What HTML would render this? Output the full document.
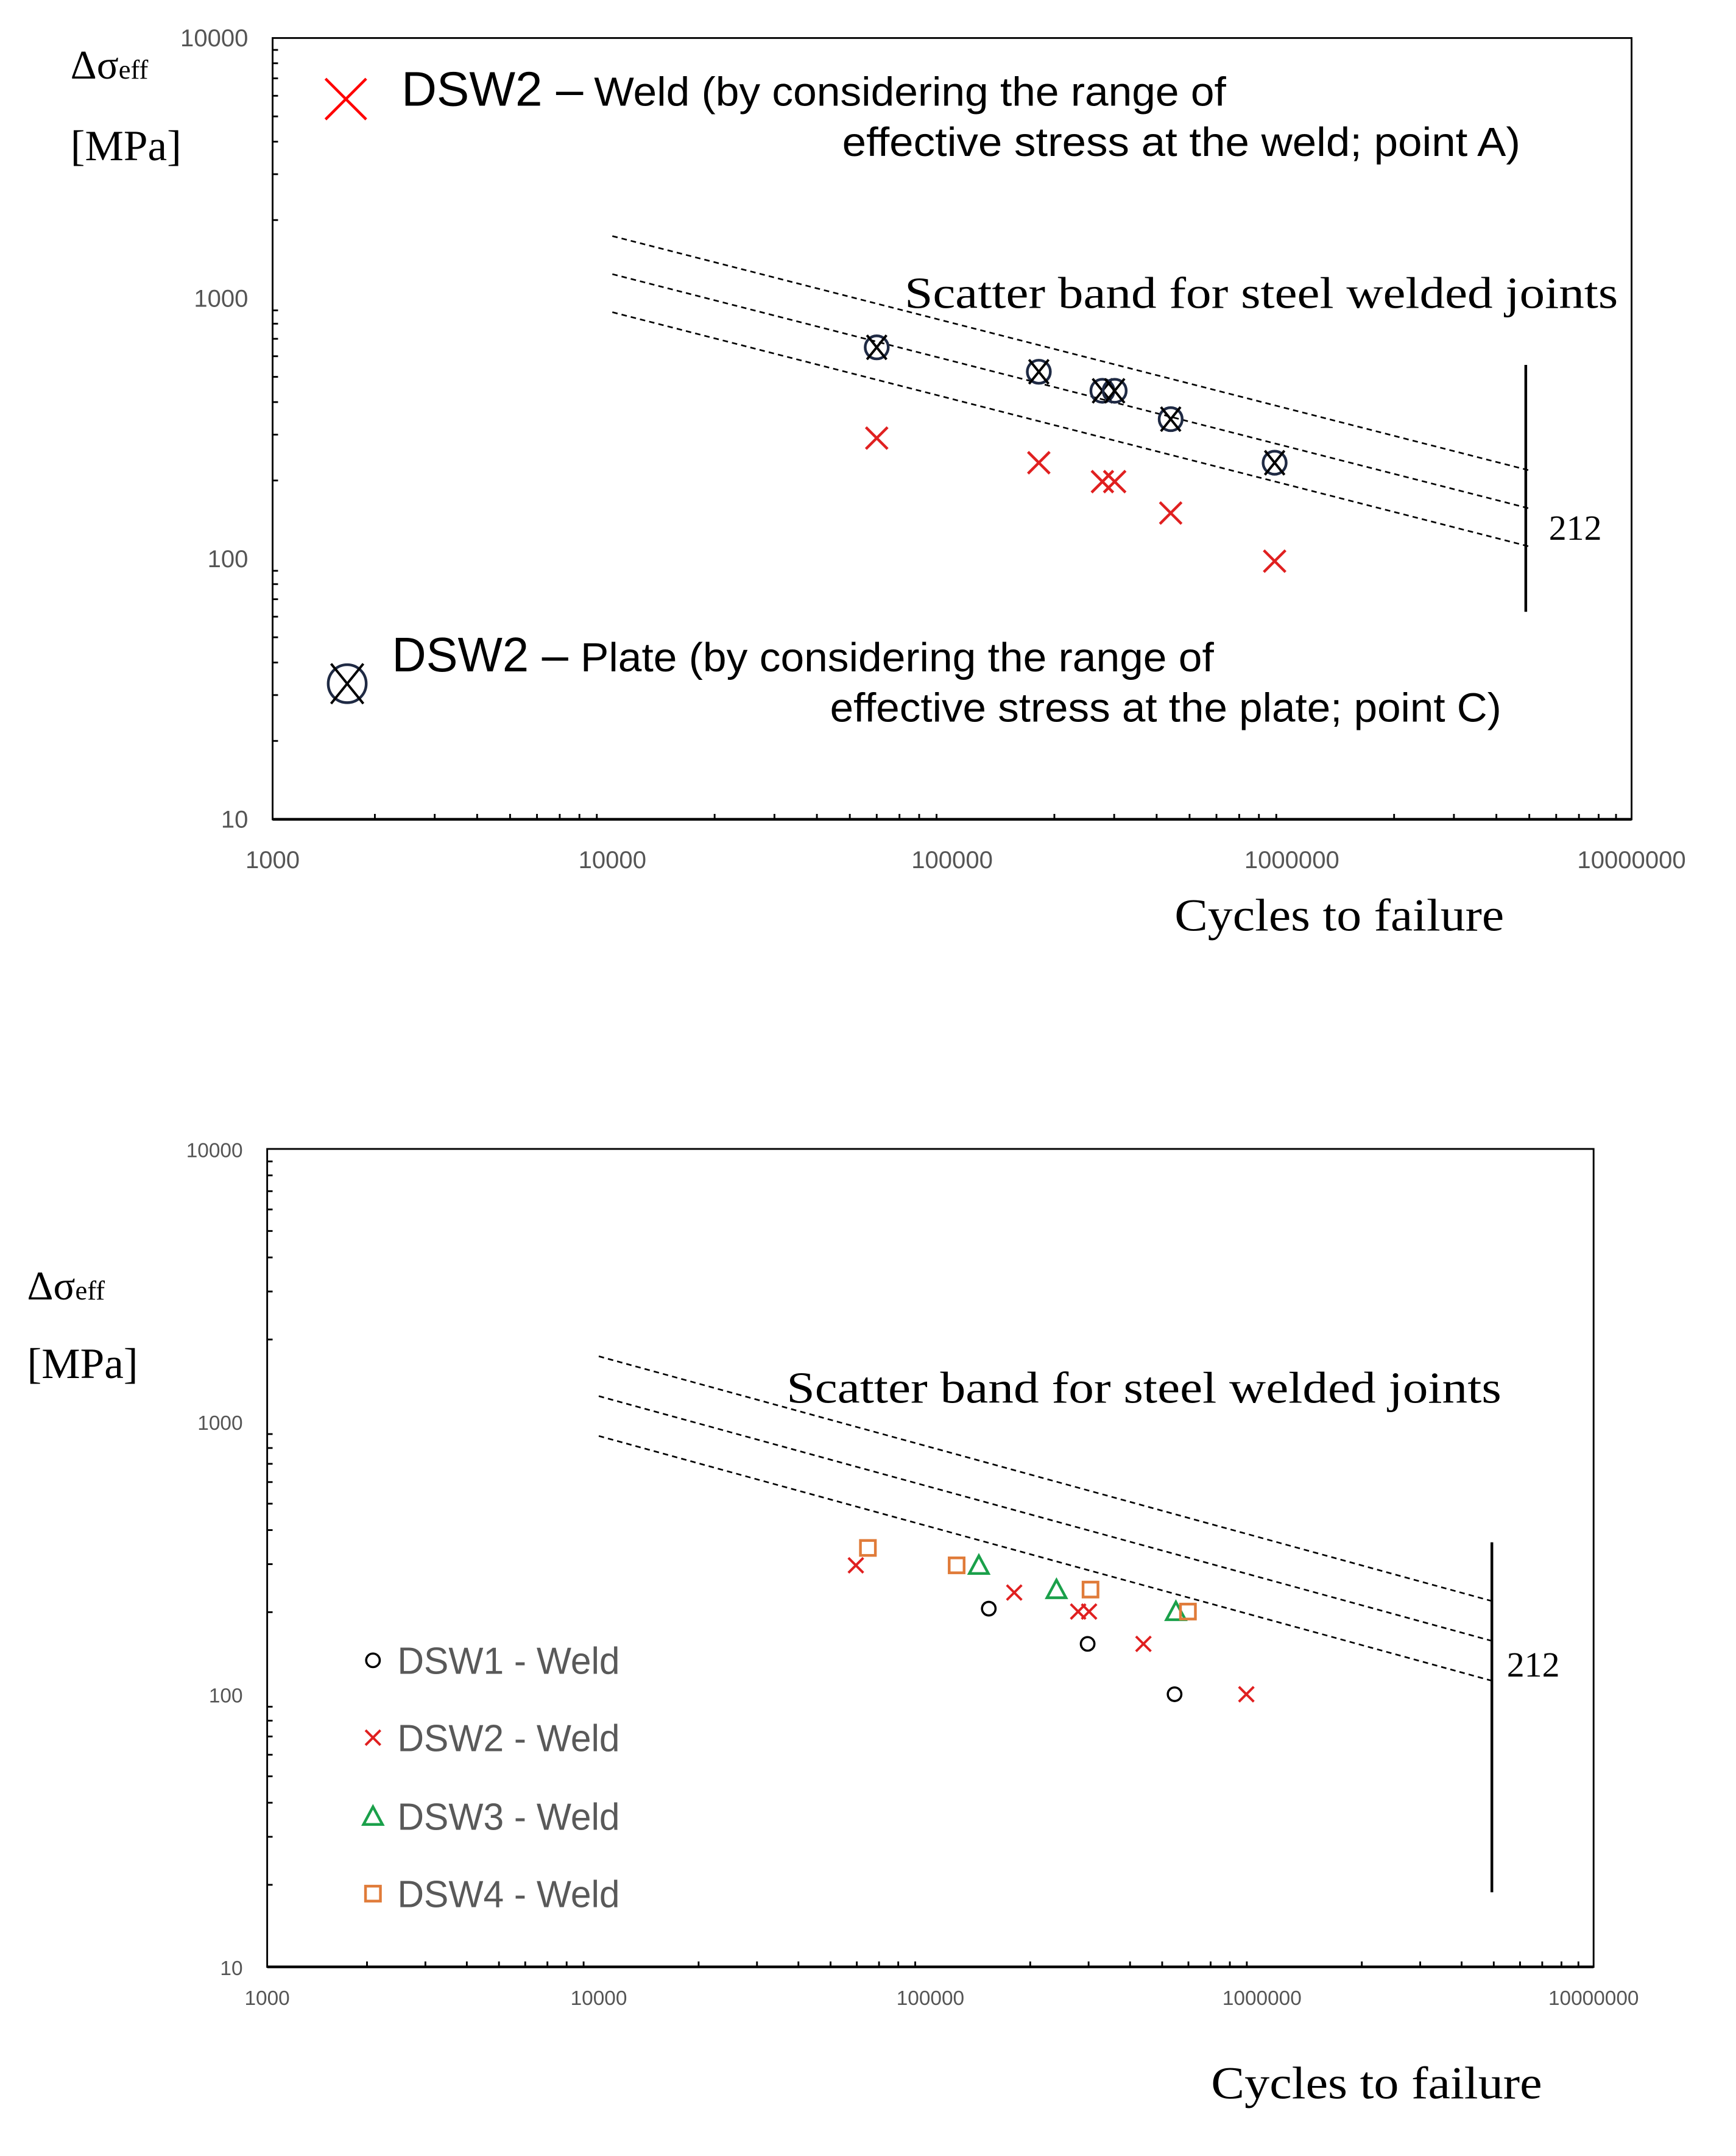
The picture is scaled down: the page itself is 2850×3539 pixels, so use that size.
<!DOCTYPE html>
<html><head><meta charset="utf-8"><style>
html,body{margin:0;padding:0;background:#fff;}
svg{display:block;}
</style></head><body>
<svg id="fig" xmlns="http://www.w3.org/2000/svg" width="2850" height="3539" viewBox="0 0 1280 1589.4">
<rect x="0" y="0" width="1280" height="1589.4" fill="#fff"/>
<g id="top"></g>
<g id="bot"></g>
</svg>
<script>
// ---------- data ----------
const xTickLabels = ["1000","10000","100000","1000000","10000000"];
const yTickLabels = ["10","100","1000","10000"];
// top chart
const weldCycles = [60000, 180000, 277000, 301000, 440000, 890000];
const weldStress = [291, 234, 198, 198, 150, 98];
const plateCycles = [60000, 180000, 277000, 301000, 440000, 890000];
const plateStress = [649, 523, 442, 442, 344, 234];
// scatter band
const bandFAT = 212;       // MPa at 2e6 cycles
const bandRefN = 2000000;
const bandSlope = 3;
const bandFactor = 1.4;
const bandStartN = 10000;
const bandEndN = 5000000;
// bottom chart
const dsw1Cycles = [150000, 298000, 545000];
const dsw1Stress = [206, 153, 100];
const dsw2Cycles = [59600, 179000, 279000, 301000, 439000, 897000];
const dsw2Stress = [297, 236, 201, 201, 153, 100];
const dsw3Cycles = [140000, 240000, 550000];
const dsw3Stress = [297, 242, 201];
const dsw4Cycles = [64800, 120000, 304000, 598000];
const dsw4Stress = [344, 297, 242, 201];

const NS = "http://www.w3.org/2000/svg";
function mk(parent, tag, attrs, text){
  const e = document.createElementNS(NS, tag);
  for (const k in attrs) e.setAttribute(k, attrs[k]);
  if (text !== undefined) e.textContent = text;
  parent.appendChild(e);
  return e;
}
function axes(L,R,T,B){
  const x = n => L + (Math.log10(n) - 3) / 4 * (R - L);
  const y = s => B - (Math.log10(s) - 1) / 3 * (B - T);
  return {x, y};
}
function drawFrame(g, L, R, T, B, ax, fs, labelYoff){
  const f = mk(g,"rect",{x:L,y:T,width:R-L,height:B-T,fill:"none",stroke:"#000","stroke-width":1.3});
  
  
  mk(g,"line",{x1:L,y1:B,x2:R,y2:B,stroke:"#000","stroke-width":2});
  for (let d = 1; d <= 3; d++) for (let m = 2; m <= 9; m++) {
    const yy = ax.y(m * Math.pow(10,d));
    const t = mk(g,"line",{x1:L,y1:yy,x2:L+4,y2:yy,stroke:"#000","stroke-width":1.3});
    
    
  }
  for (let d = 3; d <= 6; d++) for (let m = 2; m <= 9; m++) {
    const xx = ax.x(m * Math.pow(10,d));
    const t = mk(g,"line",{x1:xx,y1:B,x2:xx,y2:B-4,stroke:"#000","stroke-width":1.3});
    
    
  }
  yTickLabels.forEach(lbl => {
    const t = mk(g,"text",{x:L-18,y:ax.y(+lbl)+6,"text-anchor":"end","font-family":"Liberation Sans Narrow, Liberation Sans, sans-serif","font-size":fs,fill:"#555"},lbl);
    
    
  });
  xTickLabels.forEach(lbl => {
    const t = mk(g,"text",{x:ax.x(+lbl),y:B+labelYoff,"text-anchor":"middle","font-family":"Liberation Sans Narrow, Liberation Sans, sans-serif","font-size":fs,fill:"#555"},lbl);
    
    
  });
}
function drawBand(g, ax, vx, vTop, vBot, lblX, lblY){
  const mean = n => bandFAT * Math.pow(bandRefN / n, 1 / bandSlope);
  [bandFactor, 1, 1 / bandFactor].forEach((k, i) => {
    const l = mk(g,"line",{x1:ax.x(bandStartN),y1:ax.y(mean(bandStartN)*k),x2:ax.x(bandEndN),y2:ax.y(mean(bandEndN)*k),stroke:"#000","stroke-width":1.2,"stroke-dasharray":"4 3"});
    
    
  });
  const v = mk(g,"line",{x1:vx,y1:vTop,x2:vx,y2:vBot,stroke:"#000","stroke-width":2});
  
  
  const t = mk(g,"text",{x:lblX,y:lblY,"font-family":"Liberation Serif, serif","font-size":26,fill:"#000"},String(bandFAT));
  
  
}
function xMark(g, cx, cy, h, color, w, name){
  const p = mk(g,"path",{d:`M${cx-h} ${cy-h}L${cx+h} ${cy+h}M${cx+h} ${cy-h}L${cx-h} ${cy+h}`,stroke:color,"stroke-width":w,fill:"none"});
  
  
  return p;
}
function otimes(g, cx, cy, r, name){
  const gg = mk(g,"g",{});
  
  
  mk(gg,"circle",{cx:cx,cy:cy,r:r,fill:"none",stroke:"#1f2a44","stroke-width":2});
  mk(gg,"path",{d:`M${cx-r*0.85} ${cy-r*1.05}L${cx+r*0.85} ${cy+r*1.05}M${cx+r*0.85} ${cy-r*1.05}L${cx-r*0.85} ${cy+r*1.05}`,stroke:"#000","stroke-width":1.8,fill:"none"});
}
function txt(g, x, y, size, family, content, name, opts){
  const a = Object.assign({x:x,y:y,"font-family":family,"font-size":size,fill:"#000"}, opts||{});
  const t = mk(g,"text",a,content);
  
  
  return t;
}
const SANS = "Liberation Sans Narrow, Liberation Sans, sans-serif";
const SERIF = "Liberation Serif, serif";

// ---------- TOP CHART ----------
(function(){
  const g = document.getElementById('top');
  const L=201,R=1203,T=28,B=604;
  const ax = axes(L,R,T,B);
  drawFrame(g,L,R,T,B,ax,18,36);
  drawBand(g,ax,1125,269,451,1142,398);
  txt(g,667,227,33,SERIF,"Scatter band for steel welded joints","band-label",{textLength:526,lengthAdjust:"spacingAndGlyphs"});
  plateCycles.forEach((n,i)=> otimes(g, ax.x(n), ax.y(plateStress[i]), 8.5, 'plate-point'));
  weldCycles.forEach((n,i)=> xMark(g, ax.x(n), ax.y(weldStress[i]), 8, "#e02020", 2, 'weld-point'));
  // y title
  txt(g,52,58,30,SERIF,"Δσ","y-axis-title").appendChild(Object.assign(document.createElementNS(NS,"tspan"),{textContent:"eff"})).setAttribute("font-size","20");
  txt(g,52,118,32,SERIF,"[MPa]","y-axis-unit");
  txt(g,866,686,34,SERIF,"Cycles to failure","x-axis-title",{textLength:243,lengthAdjust:"spacingAndGlyphs"});
  // legend
  xMark(g,255,73,15,"#ff0000",2,'legend-weld-symbol');
  txt(g,296,78,36,SANS,"DSW2 –","legend-weld-name",{textLength:134,lengthAdjust:"spacingAndGlyphs"});
  txt(g,438,78,30,SANS,"Weld (by considering the range of","legend-weld-desc",{textLength:466,lengthAdjust:"spacingAndGlyphs"});
  txt(g,621,115,30,SANS,"effective stress at the weld; point A)","legend-weld-desc2",{textLength:500,lengthAdjust:"spacingAndGlyphs"});
  otimes(g,256,504,14,'legend-plate-symbol');
  txt(g,289,495,36,SANS,"DSW2 –","legend-plate-name",{textLength:130,lengthAdjust:"spacingAndGlyphs"});
  txt(g,428,495,30,SANS,"Plate (by considering the range of","legend-plate-desc",{textLength:467,lengthAdjust:"spacingAndGlyphs"});
  txt(g,612,532,30,SANS,"effective stress at the plate; point C)","legend-plate-desc2",{textLength:495,lengthAdjust:"spacingAndGlyphs"});
})();

// ---------- BOTTOM CHART ----------
(function(){
  const g = document.getElementById('bot');
  const L=197,R=1175,T=847,B=1450;
  const ax = axes(L,R,T,B);
  drawFrame(g,L,R,T,B,ax,15,28);
  drawBand(g,ax,1100,1137,1395,1111,1236);
  txt(g,580,1034,33,SERIF,"Scatter band for steel welded joints","band-label",{textLength:527,lengthAdjust:"spacingAndGlyphs"});
  const circ = (cx,cy,name)=>{const c=mk(g,"circle",{cx:cx,cy:cy,r:5,fill:"none",stroke:"#000","stroke-width":1.6});};
  const tri = (cx,cy,name)=>{const p=mk(g,"path",{d:`M${cx} ${cy-7}L${cx+7} ${cy+6}L${cx-7} ${cy+6}Z`,fill:"none",stroke:"#1aa04a","stroke-width":2});};
  const sq = (cx,cy,name)=>{const p=mk(g,"rect",{x:cx-5.5,y:cy-5.5,width:11,height:11,fill:"none",stroke:"#e07b39","stroke-width":2});};
  dsw1Cycles.forEach((n,i)=>circ(ax.x(n),ax.y(dsw1Stress[i]),'dsw1-point'));
  dsw2Cycles.forEach((n,i)=>xMark(g,ax.x(n),ax.y(dsw2Stress[i]),5.5,"#e02020",1.8,'dsw2-point'));
  dsw3Cycles.forEach((n,i)=>tri(ax.x(n),ax.y(dsw3Stress[i]),'dsw3-point'));
  dsw4Cycles.forEach((n,i)=>sq(ax.x(n),ax.y(dsw4Stress[i]),'dsw4-point'));
  txt(g,20,958,30,SERIF,"Δσ","y-axis-title").appendChild(Object.assign(document.createElementNS(NS,"tspan"),{textContent:"eff"})).setAttribute("font-size","20");
  txt(g,20,1016,32,SERIF,"[MPa]","y-axis-unit");
  txt(g,893,1547,34,SERIF,"Cycles to failure","x-axis-title",{textLength:244,lengthAdjust:"spacingAndGlyphs"});
  const ly=[1224,1281,1339,1396];
  const names=["DSW1 - Weld","DSW2 - Weld","DSW3 - Weld","DSW4 - Weld"];
  circ(275,ly[0],'legend-dsw1-symbol');
  xMark(g,275,ly[1],5.5,"#e02020",1.8,'legend-dsw2-symbol');
  tri(275,ly[2],'legend-dsw3-symbol');
  sq(275,ly[3],'legend-dsw4-symbol');
  names.forEach((nm,i)=>txt(g,293,ly[i]+10,28,SANS,nm,'legend-entry',{fill:"#595959",textLength:164,lengthAdjust:"spacingAndGlyphs"}));
})();
</script>
</body></html>
